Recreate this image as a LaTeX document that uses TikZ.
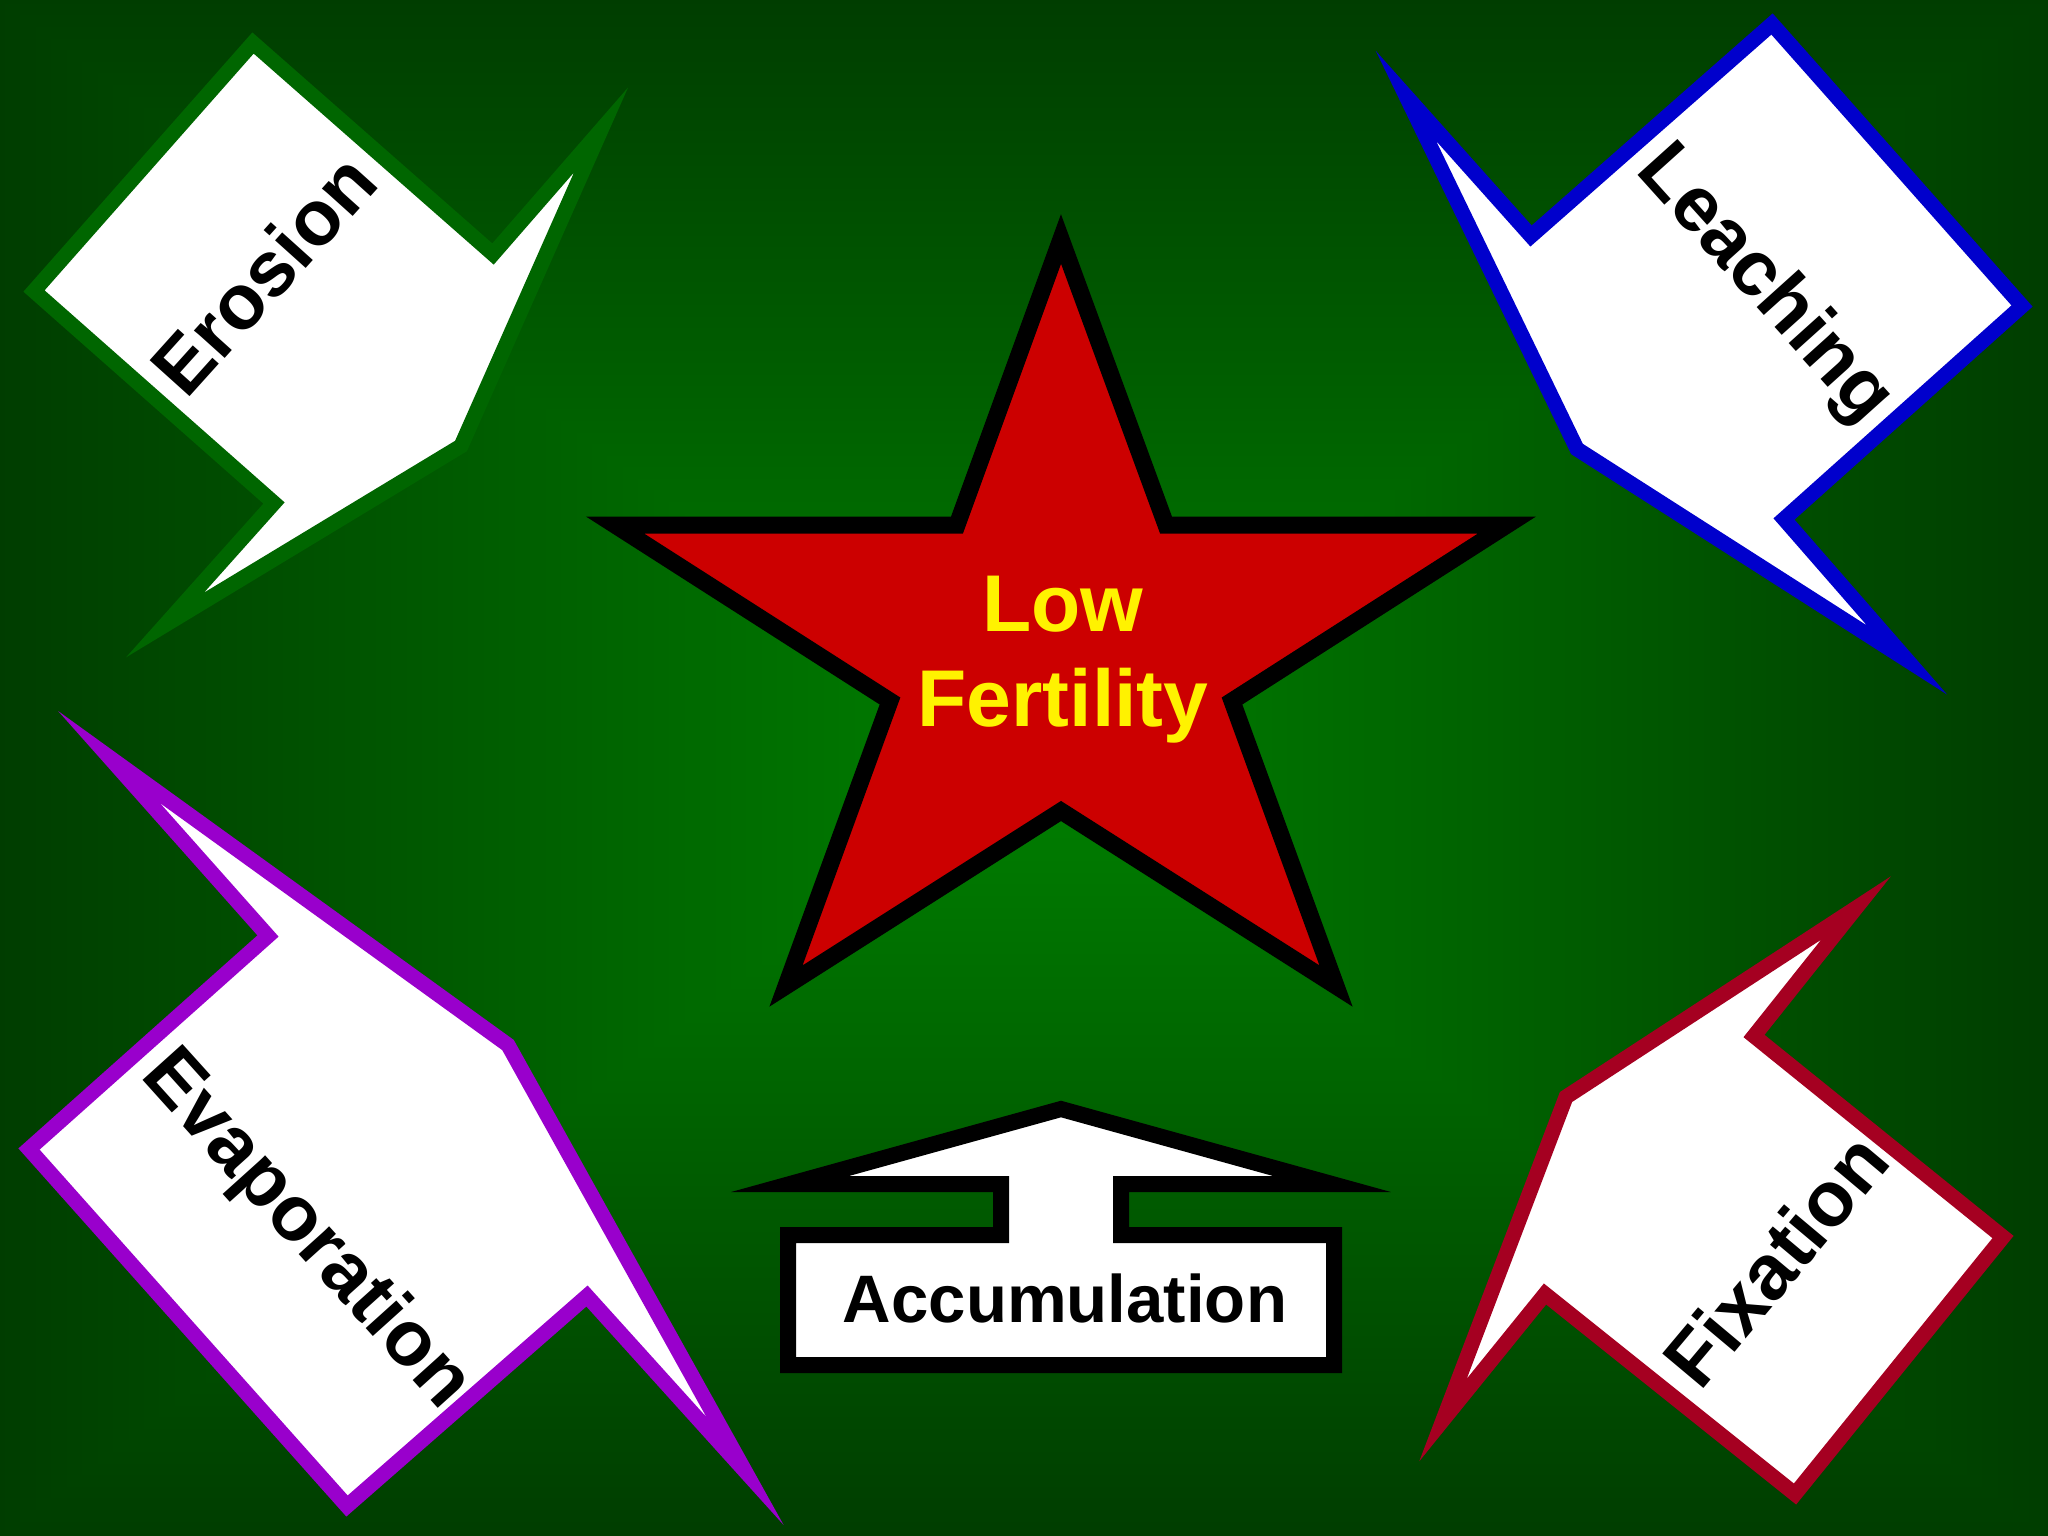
\documentclass[tikz,border=0pt]{standalone}
\usepackage{fontspec}
\setmainfont{Liberation Sans}
\definecolor{erosiongreen}{RGB}{0,102,0}
\definecolor{leachblue}{RGB}{0,0,204}
\definecolor{evappurple}{RGB}{153,0,204}
\definecolor{fixred}{RGB}{165,0,33}
\definecolor{starred}{RGB}{204,0,0}
% green glow, brightest in the middle, dark at every edge
\pgfdeclarefunctionalshading{glow}{\pgfpoint{0bp}{0bp}}{\pgfpoint{100bp}{100bp}}{}{
  50 sub 25 div abs exch 50 sub 25 div abs
  2 copy lt {exch} if pop
  dup 1 gt {pop 1} if
  -0.26 mul 0.5 add 0 exch 0
}
\tikzset{
    % outline of the callout arrows
    box/.style={
           fill=white,
           line width=1.5mm,
           line join=miter,
           miter limit=25},
    % black words on the callouts
    word/.style={
           font=\bfseries\fontsize{22.2}{26}\selectfont,
           inner sep=0pt,
           anchor=base}
}

\begin{document}
\begin{tikzpicture}[x=0.01cm,y=-0.01cm]
\useasboundingbox (0,0) rectangle (2048,1536);
% background
\shade[shading=glow] (0,0) rectangle (2048,1536);

% star
\filldraw[fill=starred, draw=black, line width=1.7mm, miter limit=25] (1061,239) -- (1166,525) -- (1507,525) -- (1232,701) -- (1336,986) -- (1061,811) -- (786,986) -- (890,701) -- (615,525) -- (957,525) -- cycle;
\node[font=\bfseries\fontsize{22.9}{27}\selectfont, text=yellow, align=center, inner sep=0pt] (lowfert) at (1063,660) {Low\\Fertility};

% arrow up into the star
\filldraw[fill=white, draw=black, line width=1.6mm, miter limit=25] (1061,1109) -- (1332,1184) -- (1121,1184) -- (1121,1235) -- (1334,1235) -- (1334,1365) -- (788,1365) -- (788,1235) -- (1001,1235) -- (1001,1184) -- (790,1184) -- cycle;
\node[word, font=\bfseries\fontsize{19.1}{23}\selectfont] (accum) at (1065,1322) {Accumulation};

% callouts
\filldraw[box, draw=erosiongreen] (253,43) -- (493,254) -- (601,130) -- (461,446) -- (165,625) -- (274,503) -- (34,291) -- cycle;
\node[word, rotate=48] (erosion) at (284,293) {Erosion};

\filldraw[box, draw=leachblue] (1772,24) -- (2022,306) -- (1784,519) -- (1907,660) -- (1577,449) -- (1406,96) -- (1531,236) -- cycle;
\node[word, rotate=-48] (leach) at (1749,299) {Leaching};

\filldraw[box, draw=evappurple] (109,757) -- (508,1045) -- (745,1471) -- (587,1296) -- (347,1506) -- (29,1149) -- (268,936) -- cycle;
\node[word, rotate=-48] (evap) at (290,1244) {Evaporation};

\filldraw[box, draw=fixred] (1856,908) -- (1754,1036) -- (2003,1237) -- (1795,1494) -- (1545,1294) -- (1443,1420) -- (1566,1097) -- cycle;
\node[word, rotate=50] (fix) at (1797,1278) {Fixation};

\end{tikzpicture}
\end{document}
